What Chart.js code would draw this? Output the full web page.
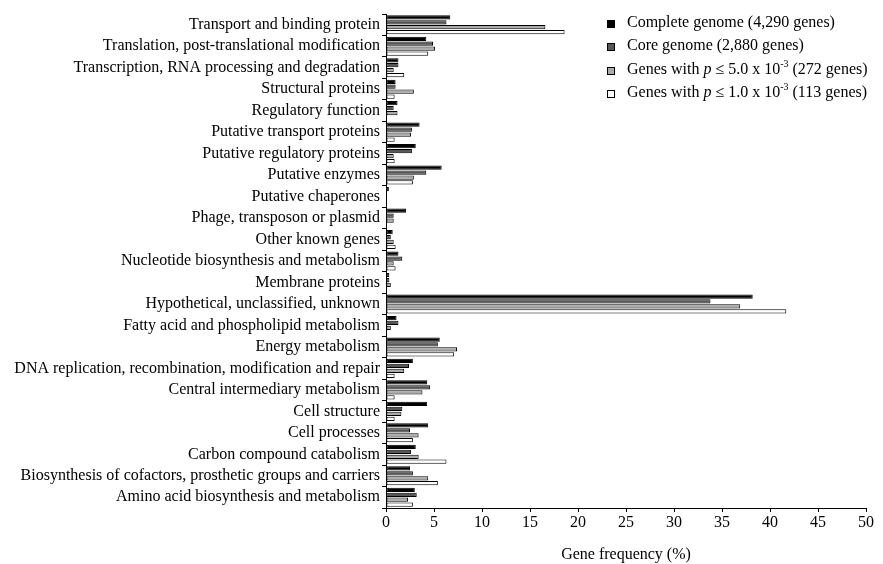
<!DOCTYPE html>
<html>
<head>
<meta charset="utf-8">
<script src="https://cdn.jsdelivr.net/npm/chart.js@4"></script>
<style>
  html, body { margin: 0; padding: 0; background: #fff; }
  #wrap { width: 883px; height: 564px; }
</style>
</head>
<body>
<div id="wrap"><canvas id="chart"></canvas></div>
<script>
const categories = [
  "Transport and binding protein",
  "Translation, post-translational modification",
  "Transcription, RNA processing and degradation",
  "Structural proteins",
  "Regulatory function",
  "Putative transport proteins",
  "Putative regulatory proteins",
  "Putative enzymes",
  "Putative chaperones",
  "Phage, transposon or plasmid",
  "Other known genes",
  "Nucleotide biosynthesis and metabolism",
  "Membrane proteins",
  "Hypothetical, unclassified, unknown",
  "Fatty acid and phospholipid metabolism",
  "Energy metabolism",
  "DNA replication, recombination, modification and repair",
  "Central intermediary metabolism",
  "Cell structure",
  "Cell processes",
  "Carbon compound catabolism",
  "Biosynthesis of cofactors, prosthetic groups and carriers",
  "Amino acid biosynthesis and metabolism"
];

const completeGenome = [6.7, 4.2, 1.3, 1.0, 1.2, 3.5, 3.1, 5.8, 0.3, 2.1, 0.7, 1.3, 0.35, 38.2, 1.1, 5.6, 2.8, 4.3, 4.3, 4.4, 3.1, 2.5, 3.0];
const coreGenome     = [6.3, 4.9, 1.3, 1.0, 0.8, 2.7, 2.7, 4.2, 0.0, 0.8, 0.5, 1.7, 0.35, 33.8, 1.3, 5.4, 2.4, 4.6, 1.7, 2.5, 2.6, 2.8, 3.2];
const genes5e3       = [16.6, 5.1, 0.8, 2.9, 1.2, 2.6, 0.8, 2.9, 0.0, 0.8, 0.8, 0.8, 0.5, 36.9, 0.5, 7.4, 1.9, 3.8, 1.6, 3.4, 3.4, 4.4, 2.3];
const genes1e3       = [18.6, 4.4, 1.9, 0.9, 0.0, 0.9, 0.9, 2.8, 0.0, 0.0, 1.0, 1.0, 0.0, 41.7, 0.0, 7.1, 0.9, 0.9, 0.9, 2.8, 6.3, 5.4, 2.8];

const xTicks = [0, 5, 10, 15, 20, 25, 30, 35, 40, 45, 50];

const seriesLabels = [
  "Complete genome (4,290 genes)",
  "Core genome (2,880 genes)",
  "Genes with p \u2264 5.0 x 10-3 (272 genes)",
  "Genes with p \u2264 1.0 x 10-3 (113 genes)"
];

const FONT = "'Liberation Serif', 'Times New Roman', serif";
const fills = ["#000000", "#575757", "#ababab", "#ffffff"];

// legend drawn by hand so the italic p and the superscript survive
const legendPlugin = {
  id: "paperLegend",
  afterDraw(chart) {
    const ctx = chart.ctx;
    const x0 = 607, y0 = 23, step = 23.3;
    ctx.save();
    ctx.textBaseline = "middle";
    chart.data.datasets.forEach((ds, i) => {
      const y = Math.round(y0 + i * step);
      ctx.fillStyle = ds.backgroundColor;
      ctx.fillRect(x0, y - 3, 8, 8);
      ctx.strokeStyle = "#000";
      ctx.lineWidth = 1;
      ctx.strokeRect(x0 + 0.5, y - 2.5, 7, 7);
      ctx.fillStyle = "#000";
      let x = x0 + 20;
      const put = (t, font, dy) => {
        ctx.font = font;
        ctx.fillText(t, x, y + (dy || 0));
        x += ctx.measureText(t).width;
      };
      if (i < 2) {
        put(ds.label, "16px " + FONT);
      } else {
        const m = ds.label.match(/^(Genes with )p( \u2264 [\d.]+ x 10)(-3)( .*)$/);
        put(m[1], "16px " + FONT);
        put("p", "italic 16px " + FONT);
        put(m[2], "16px " + FONT);
        put(m[3], "10px " + FONT, -6);
        put(m[4], "16px " + FONT);
      }
    });
    ctx.restore();
  }
};

const allSeries = [completeGenome, coreGenome, genes5e3, genes1e3];

new Chart(document.getElementById("chart"), {
  type: "bar",
  data: {
    labels: categories,
    datasets: allSeries.map((vals, i) => ({
      label: seriesLabels[i],
      data: vals,
      backgroundColor: fills[i],
      borderColor: "#000",
      borderWidth: 1,
      borderSkipped: false,
      categoryPercentage: 0.92,
      barPercentage: 0.86
    }))
  },
  options: {
    indexAxis: "y",
    responsive: true,
    maintainAspectRatio: false,
    animation: false,
    layout: { padding: { top: 14, right: 17, left: 0, bottom: 0 } },
    plugins: {
      legend: { display: false },
      tooltip: { enabled: false }
    },
    scales: {
      x: {
        min: 0,
        max: 50,
        afterBuildTicks: axis => { axis.ticks = xTicks.map(v => ({ value: v })); },
        afterFit: axis => { axis.height = 56; },
        grid: { drawOnChartArea: false, tickLength: 4, color: "#000" },
        border: { color: "#000", width: 1 },
        ticks: { color: "#000", padding: 1, font: { family: FONT, size: 16 } },
        title: {
          display: true,
          text: "Gene frequency (%)",
          color: "#000",
          padding: { top: 0, bottom: 0 },
          font: { family: FONT, size: 16 }
        }
      },
      y: {
        afterFit: axis => { axis.width = 386; },
        grid: { drawOnChartArea: false, tickLength: 4, color: "#000", offset: true },
        border: { color: "#000", width: 1 },
        ticks: { color: "#000", padding: 2, autoSkip: false, font: { family: FONT, size: 16 } }
      }
    }
  },
  plugins: [legendPlugin]
});
</script>
</body>
</html>
